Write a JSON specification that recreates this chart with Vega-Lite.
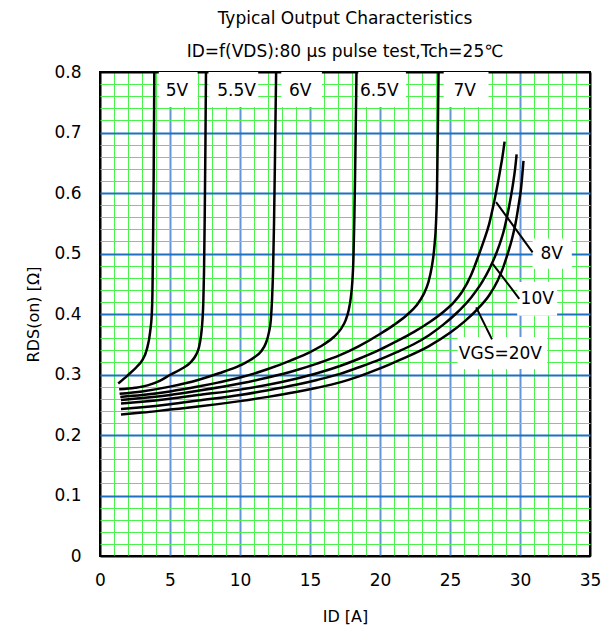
{
  "$schema": "https://vega.github.io/schema/vega-lite/v6.json",
  "width": 490,
  "height": 484,
  "autosize": {"type": "none"},
  "padding": {"left": 100, "top": 72, "right": 14, "bottom": 79},
  "config": {
    "font": "DejaVu Sans",
    "view": {"stroke": "black", "strokeWidth": 2},
    "axis": {"labelColor": "black", "titleColor": "black", "titleFontWeight": "normal", "labelFontSize": 17, "titleFontSize": 16}
  },
  "title": {
    "text": "Typical Output Characteristics",
    "subtitle": "ID=f(VDS):80 μs pulse test,Tch=25℃",
    "fontSize": 17,
    "fontWeight": "normal",
    "color": "black",
    "subtitleFontSize": 17,
    "subtitleColor": "black",
    "subtitlePadding": 16,
    "offset": 2,
    "anchor": "middle"
  },
  "encoding": {
    "x": {
      "field": "x", "type": "quantitative",
      "scale": {"domain": [0, 35], "nice": false, "zero": false},
      "axis": {
        "values": [0,1,2,3,4,5,6,7,8,9,10,11,12,13,14,15,16,17,18,19,20,21,22,23,24,25,26,27,28,29,30,31,32,33,34,35],
        "grid": true,
        "gridColor": {"condition": [{"test": "datum.value === 0 || datum.value === 35", "value": "black"}, {"test": "datum.value % 5 === 0", "value": "#6495d6"}], "value": "#4cf24c"},
        "gridWidth": {"condition": {"test": "datum.value % 5 === 0", "value": 2}, "value": 1},
        "labelExpr": "datum.value % 5 === 0 ? datum.label : ''",
        "labelOverlap": false,
        "labelFlush": false,
        "ticks": false,
        "domain": false,
        "labelPadding": 16,
        "title": "ID  [A]",
        "titlePadding": 20
      }
    },
    "y": {
      "field": "y", "type": "quantitative",
      "scale": {"domain": [0, 0.8], "nice": false, "zero": false},
      "axis": {
        "values": [0,0.02,0.04,0.06,0.08,0.1,0.12,0.14,0.16,0.18,0.2,0.22,0.24,0.26,0.28,0.3,0.32,0.34,0.36,0.38,0.4,0.42,0.44,0.46,0.48,0.5,0.52,0.54,0.56,0.58,0.6,0.62,0.64,0.66,0.68,0.7,0.72,0.74,0.76,0.78,0.8],
        "grid": true,
        "gridColor": {"condition": [{"test": "datum.value < 0.001 || datum.value > 0.799", "value": "black"}, {"test": "abs(datum.value*10 - round(datum.value*10)) < 0.000001", "value": "#1f70c0"}], "value": "#4cf24c"},
        "gridWidth": {"condition": {"test": "abs(datum.value*10 - round(datum.value*10)) < 0.000001", "value": 2}, "value": 1},
        "labelExpr": "abs(datum.value*10 - round(datum.value*10)) < 0.000001 ? format(datum.value, '.1~f') : ''",
        "labelOverlap": false,
        "labelFlush": false,
        "ticks": false,
        "domain": false,
        "labelPadding": 19,
        "title": "RDS(on)  [Ω]",
        "titlePadding": 12
      }
    }
  },
  "layer": [
    {
      "data": {"values": [
        {"x": 4.2, "x2": 6.97, "y": 0.742, "y2": 0.8},
        {"x": 7.75, "x2": 11.3, "y": 0.742, "y2": 0.8},
        {"x": 12.95, "x2": 15.85, "y": 0.742, "y2": 0.8},
        {"x": 18.45, "x2": 21.85, "y": 0.742, "y2": 0.8},
        {"x": 24.55, "x2": 27.75, "y": 0.742, "y2": 0.8},
        {"x": 30.9, "x2": 33.7, "y": 0.475, "y2": 0.525},
        {"x": 29.8, "x2": 32.65, "y": 0.397, "y2": 0.453},
        {"x": 25.55, "x2": 31.95, "y": 0.309, "y2": 0.362}
      ]},
      "mark": {"type": "rect", "fill": "white", "strokeWidth": 0},
      "encoding": {"x2": {"field": "x2"}, "y2": {"field": "y2"}}
    },
    {
      "data": {"values": [
        {"vgs": "5V", "x": 1.3, "y": 0.285}, {"vgs": "5V", "x": 2.0, "y": 0.299}, {"vgs": "5V", "x": 2.6, "y": 0.312}, {"vgs": "5V", "x": 3.0, "y": 0.323}, {"vgs": "5V", "x": 3.35, "y": 0.342}, {"vgs": "5V", "x": 3.58, "y": 0.37}, {"vgs": "5V", "x": 3.7, "y": 0.4}, {"vgs": "5V", "x": 3.75, "y": 0.44}, {"vgs": "5V", "x": 3.79, "y": 0.52}, {"vgs": "5V", "x": 3.83, "y": 0.62}, {"vgs": "5V", "x": 3.86, "y": 0.72}, {"vgs": "5V", "x": 3.88, "y": 0.8},
        {"vgs": "5.5V", "x": 1.37, "y": 0.2755}, {"vgs": "5.5V", "x": 2.5, "y": 0.278}, {"vgs": "5.5V", "x": 3.4, "y": 0.282}, {"vgs": "5.5V", "x": 4.3, "y": 0.29}, {"vgs": "5.5V", "x": 5.05, "y": 0.3}, {"vgs": "5.5V", "x": 5.8, "y": 0.309}, {"vgs": "5.5V", "x": 6.47, "y": 0.32}, {"vgs": "5.5V", "x": 6.85, "y": 0.332}, {"vgs": "5.5V", "x": 7.07, "y": 0.345}, {"vgs": "5.5V", "x": 7.22, "y": 0.365}, {"vgs": "5.5V", "x": 7.32, "y": 0.39}, {"vgs": "5.5V", "x": 7.38, "y": 0.42}, {"vgs": "5.5V", "x": 7.43, "y": 0.47}, {"vgs": "5.5V", "x": 7.48, "y": 0.56}, {"vgs": "5.5V", "x": 7.53, "y": 0.68}, {"vgs": "5.5V", "x": 7.57, "y": 0.8},
        {"vgs": "6V", "x": 1.4, "y": 0.268}, {"vgs": "6V", "x": 3, "y": 0.272}, {"vgs": "6V", "x": 5, "y": 0.28}, {"vgs": "6V", "x": 7, "y": 0.291}, {"vgs": "6V", "x": 8.5, "y": 0.302}, {"vgs": "6V", "x": 10, "y": 0.315}, {"vgs": "6V", "x": 11, "y": 0.328}, {"vgs": "6V", "x": 11.5, "y": 0.338}, {"vgs": "6V", "x": 11.85, "y": 0.352}, {"vgs": "6V", "x": 12.07, "y": 0.37}, {"vgs": "6V", "x": 12.2, "y": 0.39}, {"vgs": "6V", "x": 12.29, "y": 0.425}, {"vgs": "6V", "x": 12.36, "y": 0.47}, {"vgs": "6V", "x": 12.43, "y": 0.55}, {"vgs": "6V", "x": 12.5, "y": 0.66}, {"vgs": "6V", "x": 12.58, "y": 0.8},
        {"vgs": "6.5V", "x": 1.45, "y": 0.263}, {"vgs": "6.5V", "x": 3, "y": 0.266}, {"vgs": "6.5V", "x": 5, "y": 0.272}, {"vgs": "6.5V", "x": 7, "y": 0.28}, {"vgs": "6.5V", "x": 8.5, "y": 0.287}, {"vgs": "6.5V", "x": 10, "y": 0.295}, {"vgs": "6.5V", "x": 12, "y": 0.309}, {"vgs": "6.5V", "x": 13.6, "y": 0.323}, {"vgs": "6.5V", "x": 15, "y": 0.337}, {"vgs": "6.5V", "x": 16, "y": 0.35}, {"vgs": "6.5V", "x": 16.7, "y": 0.362}, {"vgs": "6.5V", "x": 17.2, "y": 0.375}, {"vgs": "6.5V", "x": 17.55, "y": 0.39}, {"vgs": "6.5V", "x": 17.77, "y": 0.407}, {"vgs": "6.5V", "x": 17.92, "y": 0.428}, {"vgs": "6.5V", "x": 18.02, "y": 0.452}, {"vgs": "6.5V", "x": 18.1, "y": 0.49}, {"vgs": "6.5V", "x": 18.17, "y": 0.56}, {"vgs": "6.5V", "x": 18.24, "y": 0.66}, {"vgs": "6.5V", "x": 18.32, "y": 0.8},
        {"vgs": "7V", "x": 1.5, "y": 0.258}, {"vgs": "7V", "x": 3, "y": 0.261}, {"vgs": "7V", "x": 5, "y": 0.266}, {"vgs": "7V", "x": 7, "y": 0.273}, {"vgs": "7V", "x": 10, "y": 0.285}, {"vgs": "7V", "x": 12, "y": 0.295}, {"vgs": "7V", "x": 14, "y": 0.307}, {"vgs": "7V", "x": 15.5, "y": 0.318}, {"vgs": "7V", "x": 17.14, "y": 0.332}, {"vgs": "7V", "x": 18.5, "y": 0.347}, {"vgs": "7V", "x": 20, "y": 0.367}, {"vgs": "7V", "x": 21, "y": 0.382}, {"vgs": "7V", "x": 21.9, "y": 0.398}, {"vgs": "7V", "x": 22.6, "y": 0.414}, {"vgs": "7V", "x": 23.1, "y": 0.432}, {"vgs": "7V", "x": 23.45, "y": 0.452}, {"vgs": "7V", "x": 23.7, "y": 0.478}, {"vgs": "7V", "x": 23.88, "y": 0.51}, {"vgs": "7V", "x": 24.0, "y": 0.55}, {"vgs": "7V", "x": 24.07, "y": 0.6}, {"vgs": "7V", "x": 24.13, "y": 0.7}, {"vgs": "7V", "x": 24.18, "y": 0.8},
        {"vgs": "8V", "x": 1.5, "y": 0.252}, {"vgs": "8V", "x": 3, "y": 0.255}, {"vgs": "8V", "x": 5, "y": 0.26}, {"vgs": "8V", "x": 7, "y": 0.266}, {"vgs": "8V", "x": 10, "y": 0.275}, {"vgs": "8V", "x": 12, "y": 0.283}, {"vgs": "8V", "x": 14, "y": 0.293}, {"vgs": "8V", "x": 15.5, "y": 0.302}, {"vgs": "8V", "x": 17.14, "y": 0.314}, {"vgs": "8V", "x": 18.5, "y": 0.326}, {"vgs": "8V", "x": 20, "y": 0.341}, {"vgs": "8V", "x": 21.2, "y": 0.355}, {"vgs": "8V", "x": 22.4, "y": 0.37}, {"vgs": "8V", "x": 23.5, "y": 0.386}, {"vgs": "8V", "x": 24.5, "y": 0.403}, {"vgs": "8V", "x": 25.3, "y": 0.42}, {"vgs": "8V", "x": 25.9, "y": 0.438}, {"vgs": "8V", "x": 26.5, "y": 0.464}, {"vgs": "8V", "x": 27.0, "y": 0.494}, {"vgs": "8V", "x": 27.4, "y": 0.52}, {"vgs": "8V", "x": 27.8, "y": 0.549}, {"vgs": "8V", "x": 28.15, "y": 0.585}, {"vgs": "8V", "x": 28.4, "y": 0.614}, {"vgs": "8V", "x": 28.6, "y": 0.64}, {"vgs": "8V", "x": 28.72, "y": 0.656}, {"vgs": "8V", "x": 28.9, "y": 0.685},
        {"vgs": "10V", "x": 1.5, "y": 0.243}, {"vgs": "10V", "x": 3, "y": 0.246}, {"vgs": "10V", "x": 5, "y": 0.251}, {"vgs": "10V", "x": 7, "y": 0.257}, {"vgs": "10V", "x": 10, "y": 0.266}, {"vgs": "10V", "x": 12, "y": 0.274}, {"vgs": "10V", "x": 14, "y": 0.283}, {"vgs": "10V", "x": 15.5, "y": 0.291}, {"vgs": "10V", "x": 17.14, "y": 0.301}, {"vgs": "10V", "x": 18.5, "y": 0.312}, {"vgs": "10V", "x": 20, "y": 0.325}, {"vgs": "10V", "x": 21.2, "y": 0.337}, {"vgs": "10V", "x": 22.4, "y": 0.35}, {"vgs": "10V", "x": 23.5, "y": 0.365}, {"vgs": "10V", "x": 24.5, "y": 0.382}, {"vgs": "10V", "x": 25.4, "y": 0.4}, {"vgs": "10V", "x": 26.5, "y": 0.427}, {"vgs": "10V", "x": 27.3, "y": 0.453}, {"vgs": "10V", "x": 27.8, "y": 0.474}, {"vgs": "10V", "x": 28.3, "y": 0.5}, {"vgs": "10V", "x": 28.88, "y": 0.541}, {"vgs": "10V", "x": 29.24, "y": 0.58}, {"vgs": "10V", "x": 29.5, "y": 0.615}, {"vgs": "10V", "x": 29.65, "y": 0.64}, {"vgs": "10V", "x": 29.76, "y": 0.664},
        {"vgs": "20V", "x": 1.5, "y": 0.234}, {"vgs": "20V", "x": 3, "y": 0.237}, {"vgs": "20V", "x": 5, "y": 0.242}, {"vgs": "20V", "x": 7, "y": 0.247}, {"vgs": "20V", "x": 10, "y": 0.256}, {"vgs": "20V", "x": 12, "y": 0.263}, {"vgs": "20V", "x": 14, "y": 0.271}, {"vgs": "20V", "x": 15.5, "y": 0.278}, {"vgs": "20V", "x": 17.14, "y": 0.287}, {"vgs": "20V", "x": 18.5, "y": 0.297}, {"vgs": "20V", "x": 20, "y": 0.31}, {"vgs": "20V", "x": 21.5, "y": 0.325}, {"vgs": "20V", "x": 23.5, "y": 0.347}, {"vgs": "20V", "x": 25, "y": 0.369}, {"vgs": "20V", "x": 26, "y": 0.387}, {"vgs": "20V", "x": 27, "y": 0.409}, {"vgs": "20V", "x": 27.8, "y": 0.431}, {"vgs": "20V", "x": 28.4, "y": 0.455}, {"vgs": "20V", "x": 28.8, "y": 0.477}, {"vgs": "20V", "x": 29.1, "y": 0.498}, {"vgs": "20V", "x": 29.45, "y": 0.526}, {"vgs": "20V", "x": 29.7, "y": 0.552}, {"vgs": "20V", "x": 29.9, "y": 0.58}, {"vgs": "20V", "x": 30.07, "y": 0.607}, {"vgs": "20V", "x": 30.25, "y": 0.653}
      ]},
      "mark": {"type": "line", "interpolate": "monotone", "color": "black", "strokeWidth": 2.5},
      "encoding": {"detail": {"field": "vgs"}}
    },
    {
      "data": {"values": [
        {"x": 28.29, "y": 0.585, "x2": 30.9, "y2": 0.502},
        {"x": 28.05, "y": 0.483, "x2": 29.95, "y2": 0.425},
        {"x": 26.87, "y": 0.411, "x2": 28.0, "y2": 0.358}
      ]},
      "mark": {"type": "rule", "color": "black", "strokeWidth": 2},
      "encoding": {"x2": {"field": "x2"}, "y2": {"field": "y2"}}
    },
    {
      "data": {"values": [
        {"x": 5.5, "y": 0.768, "label": "5V"},
        {"x": 9.75, "y": 0.768, "label": "5.5V"},
        {"x": 14.3, "y": 0.768, "label": "6V"},
        {"x": 19.95, "y": 0.768, "label": "6.5V"},
        {"x": 26.05, "y": 0.768, "label": "7V"},
        {"x": 32.26, "y": 0.5, "label": "8V"},
        {"x": 31.23, "y": 0.424, "label": "10V"},
        {"x": 28.6, "y": 0.334, "label": "VGS=20V"}
      ]},
      "mark": {"type": "text", "fontSize": 17, "color": "black", "align": "center", "baseline": "middle"},
      "encoding": {"text": {"field": "label"}}
    }
  ]
}
